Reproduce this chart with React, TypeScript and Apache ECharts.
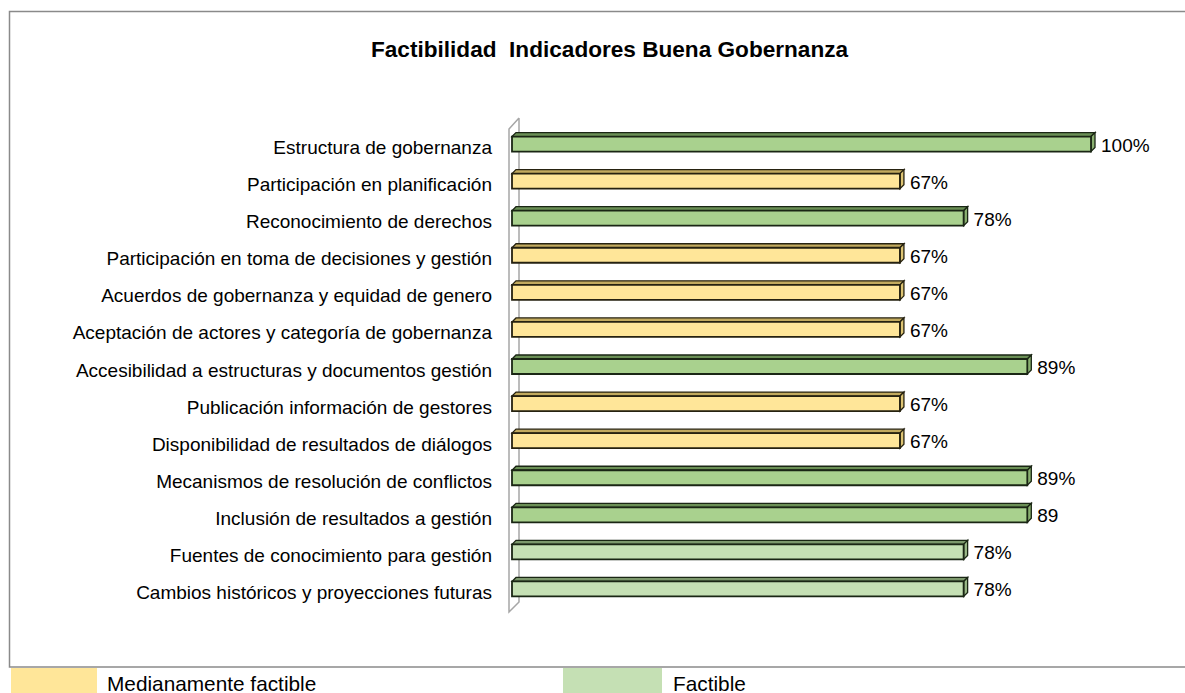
import React, { useEffect, useRef } from "react";
import * as echarts from "echarts";

const categories = [
  "Estructura de gobernanza",
  "Participación en planificación",
  "Reconocimiento de derechos",
  "Participación en toma de decisiones y gestión",
  "Acuerdos de gobernanza y equidad de genero",
  "Aceptación de actores y categoría de gobernanza",
  "Accesibilidad a estructuras y documentos gestión",
  "Publicación información de gestores",
  "Disponibilidad de resultados de diálogos",
  "Mecanismos de resolución de conflictos",
  "Inclusión de resultados a gestión",
  "Fuentes de conocimiento para gestión",
  "Cambios históricos y proyecciones futuras",
];
const values = [100, 67, 78, 67, 67, 67, 89, 67, 67, 89, 89, 78, 78];
const valueLabels = ["100%", "67%", "78%", "67%", "67%", "67%", "89%", "67%", "67%", "89%", "89", "78%", "78%"];
// F = factible (dark green), M = medianamente factible (yellow), L = factible (light green)
const kinds = ["F", "M", "F", "M", "M", "M", "F", "M", "M", "F", "F", "L", "L"];
const legendItems = ["Medianamente factible", "Factible"];

const palette: Record<string, { front: string; top: string; side: string; edge: string }> = {
  F: { front: "#A9D18E", top: "#6A8F55", side: "#8AB070", edge: "#1A2614" },
  M: { front: "#FFE699", top: "#C2AA5E", side: "#DDC474", edge: "#262210" },
  L: { front: "#C5E0B4", top: "#7C986C", side: "#9AB888", edge: "#1A2614" },
};

const FONT = "'Liberation Sans', Arial, sans-serif";

export default function App() {
  const ref = useRef<HTMLDivElement>(null);
  useEffect(() => {
    if (!ref.current) return;
    const chart = echarts.init(ref.current, undefined, { renderer: "svg" });
    const gridLeft = 512;
    const gridTop = 129;
    const gridHeight = 482;
    chart.setOption({
      animation: false,
      backgroundColor: "#ffffff",
      title: {
        text: "Factibilidad  Indicadores Buena Gobernanza",
        left: 366,
        top: 33,
        textStyle: {
          fontFamily: FONT,
          fontSize: 22.6,
          fontWeight: "bold",
          color: "#000",
        },
      },
      grid: { left: gridLeft, top: gridTop, width: 579, height: gridHeight },
      xAxis: { type: "value", min: 0, max: 100, show: false },
      yAxis: {
        type: "category",
        inverse: true,
        data: categories,
        axisLine: { show: false },
        axisTick: { show: false },
        splitLine: { show: false },
        axisLabel: { fontFamily: FONT, fontSize: 19, color: "#000", margin: 20 },
      },
      series: [
        {
          type: "custom",
          data: values.map((v, i) => [v, i]),
          encode: { x: 0, y: 1 },
          renderItem: (params: any, api: any) => {
            const v = api.value(0);
            const idx = api.value(1);
            const p0 = api.coord([0, idx]);
            const p1 = api.coord([v, idx]);
            const c = palette[kinds[idx]];
            const cy = p0[1] - 3.5;
            const h = 15;
            const dx = 4;
            const dy = 4;
            const top = cy - h / 2;
            const bot = cy + h / 2;
            const x0 = p0[0];
            const x1 = p1[0];
            return {
              type: "group",
              children: [
                {
                  type: "polygon",
                  shape: { points: [[x0, top], [x0 + dx, top - dy], [x1 + dx, top - dy], [x1, top]] },
                  style: { fill: c.top, stroke: c.edge, lineWidth: 1.3 },
                },
                {
                  type: "polygon",
                  shape: { points: [[x1, top], [x1 + dx, top - dy], [x1 + dx, bot - dy], [x1, bot]] },
                  style: { fill: c.side, stroke: c.edge, lineWidth: 1.3 },
                },
                {
                  type: "rect",
                  shape: { x: x0, y: top, width: x1 - x0, height: h },
                  style: { fill: c.front, stroke: c.edge, lineWidth: 1.8 },
                },
                {
                  type: "text",
                  style: {
                    text: valueLabels[idx],
                    x: x1 + dx + 6,
                    y: cy + 1,
                    verticalAlign: "middle",
                    align: "left",
                    fontFamily: FONT,
                    fontSize: 19,
                    fill: "#000",
                  },
                },
              ],
            };
          },
        },
      ],
      graphic: [
        {
          type: "rect",
          shape: { x: 9.5, y: 11.5, width: 1180, height: 655.5 },
          style: { fill: "none", stroke: "#8a8a8a", lineWidth: 1.5 },
          silent: true,
        },
        {
          type: "polyline",
          shape: { points: [[519, 118], [509, 129], [509, 612], [519, 602], [519, 118]] },
          style: { fill: "none", stroke: "#a6a6a6", lineWidth: 1.5 },
          silent: true,
        },
        {
          type: "rect",
          shape: { x: 11, y: 668, width: 86, height: 26 },
          style: { fill: "#FFE699" },
        },
        {
          type: "text",
          style: {
            text: legendItems[0],
            x: 107,
            y: 683,
            verticalAlign: "middle",
            fontFamily: FONT,
            fontSize: 20.8,
            fill: "#000",
          },
        },
        {
          type: "rect",
          shape: { x: 563, y: 668, width: 99, height: 26 },
          style: { fill: "#C5E0B4" },
        },
        {
          type: "text",
          style: {
            text: legendItems[1],
            x: 673,
            y: 683,
            verticalAlign: "middle",
            fontFamily: FONT,
            fontSize: 20.8,
            fill: "#000",
          },
        },
      ],
    });
    return () => chart.dispose();
  }, []);
  return (
    <div
      ref={ref}
      style={{ position: "fixed", left: 0, top: 0, width: 1185, height: 693, background: "#fff" }}
    />
  );
}
